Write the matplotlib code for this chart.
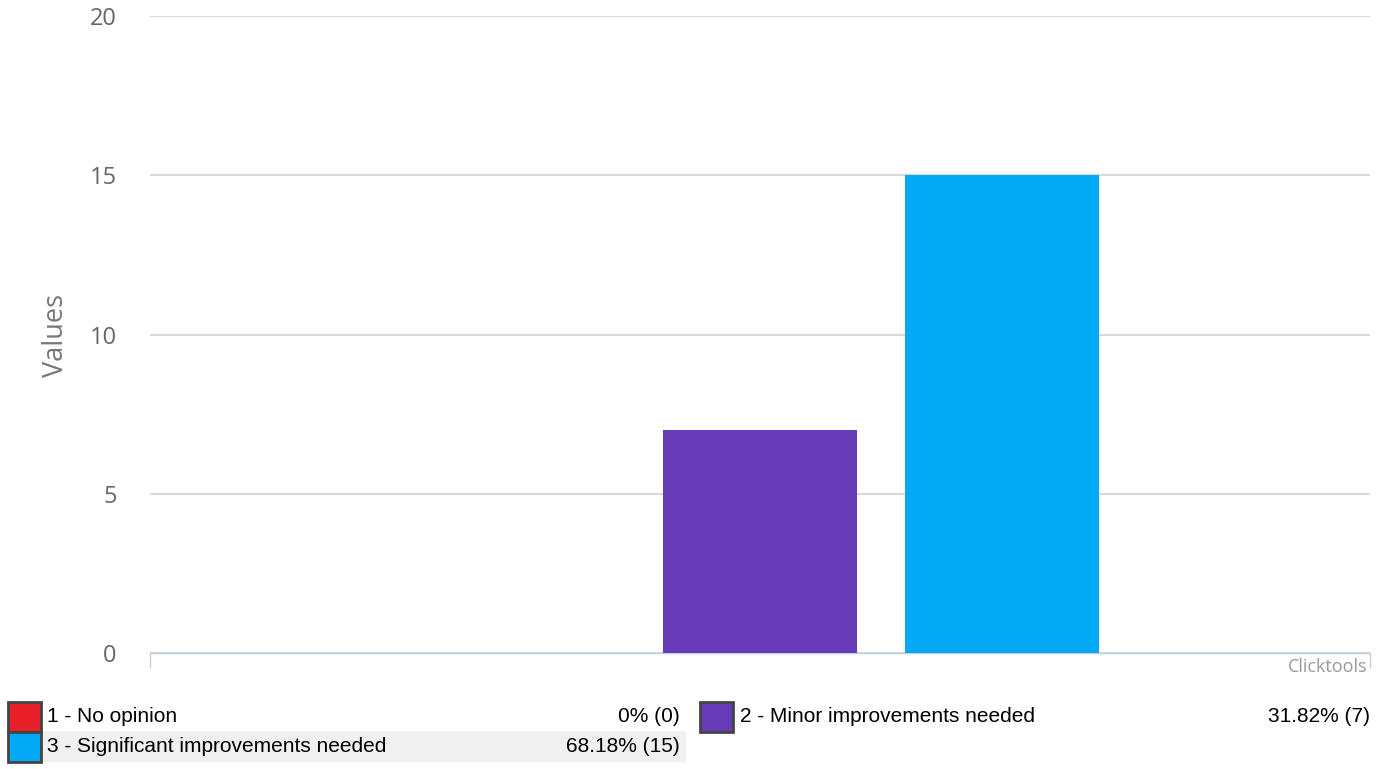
import matplotlib
matplotlib.use("Agg")
import matplotlib.pyplot as plt
from matplotlib.patches import Rectangle

labels = ["1 - No opinion", "2 - Minor improvements needed", "3 - Significant improvements needed"]
values = [0, 7, 15]
percents = ["0%", "31.82%", "68.18%"]
colors = ["#e8202a", "#673ab7", "#03a9f4"]
yticks = [0, 5, 10, 15, 20]

W, H = 1393, 769
fig = plt.figure(figsize=(W / 100, H / 100), dpi=100)

def fx(px):
    return px / W

def fy(py):
    return 1 - py / H

ax = fig.add_axes([fx(150), fy(653), fx(1370) - fx(150), fy(16) - fy(653)])
xs = list(range(len(values)))
ax.bar(xs, values, width=0.8, color=colors, zorder=3)
ax.set_xlim(-1.52, 3.52)
ax.set_ylim(0, 20)
ax.set_yticks(yticks)
ax.set_yticklabels([str(v) for v in yticks], fontsize=17, color="#666666", family="Open Sans")
ax.tick_params(axis="y", length=0, pad=24)
ax.yaxis.grid(True, color="#d9d9d9", linewidth=1.5, zorder=0)
ax.set_xticks([-1.52, 3.52])
ax.set_xticklabels([])
ax.tick_params(axis="x", direction="out", length=11, width=1, color="#c0d0e0")
for s in ["top", "right", "left"]:
    ax.spines[s].set_visible(False)
ax.spines["bottom"].set_color("#c0d0e0")
ax.spines["bottom"].set_linewidth(1)

fig.text(fx(56), fy(335), "Values", rotation=90, fontsize=19.5, color="#777777",
         family="Open Sans", ha="center", va="center")

fig.text(fx(1367), fy(667), "Clicktools", fontsize=13, color="#999999",
         family="Open Sans", ha="right", va="center")

# Legend table
rows = [(0, 8, 717, 47, 680), (1, 700, 717, 740, 1370), (2, 8, 747, 47, 680)]
fig.patches.append(Rectangle((fx(42), fy(762)), fx(686) - fx(42), fy(731) - fy(762),
                             transform=fig.transFigure, facecolor="#f0f0f0", edgecolor="none", zorder=0))
for i, sx, cy, tx, rx in rows:
    fig.patches.append(Rectangle((fx(sx), fy(cy + 15)), fx(33), fy(0) - fy(30),
                                 transform=fig.transFigure, facecolor=colors[i],
                                 edgecolor="#444444", linewidth=2, zorder=2))
    fig.text(fx(tx), fy(cy), labels[i], fontsize=15, color="#000000",
             family="Liberation Sans", ha="left", va="center")
    fig.text(fx(rx), fy(cy), f"{percents[i]} ({values[i]})", fontsize=15, color="#000000",
             family="Liberation Sans", ha="right", va="center")

fig.savefig("out.png", dpi=100)
